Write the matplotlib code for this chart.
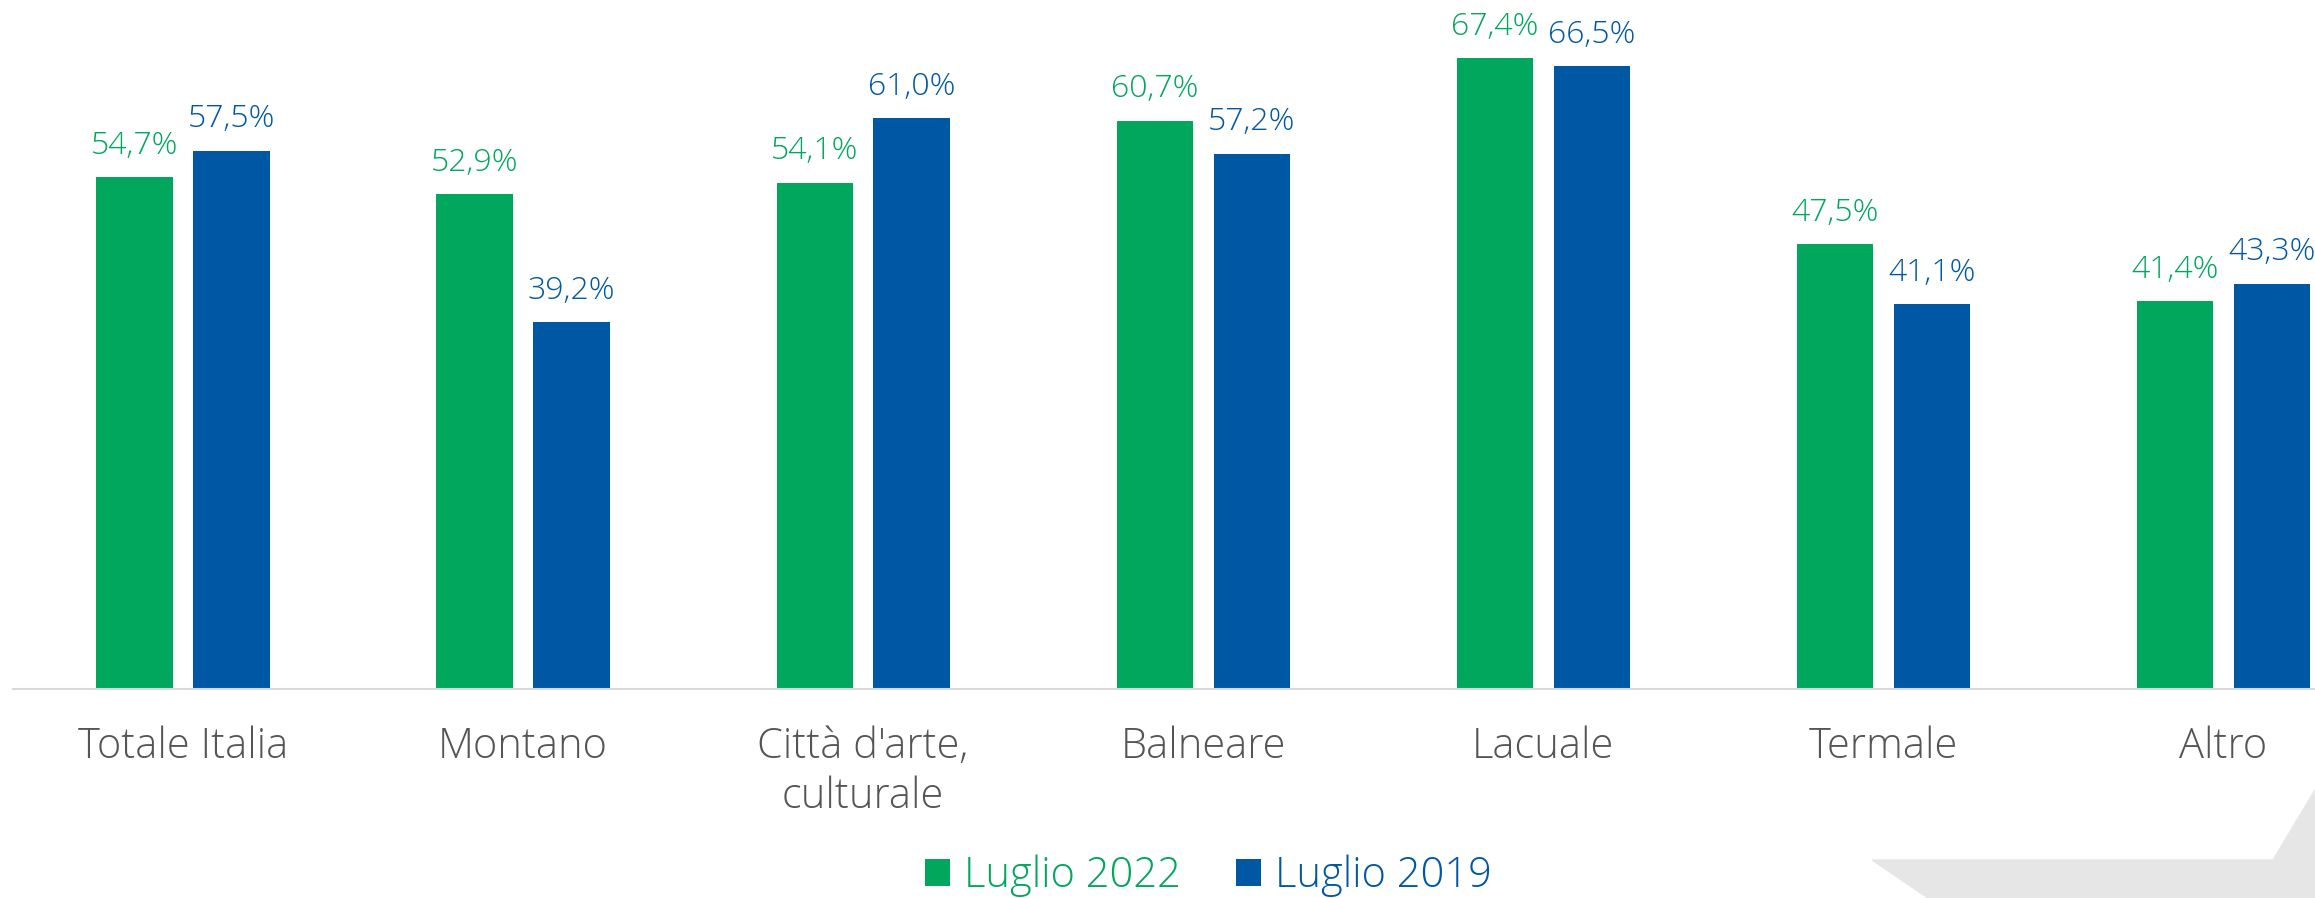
import matplotlib.pyplot as plt
from matplotlib.patches import Polygon
import numpy as np

categorie = ["Totale Italia", "Montano", "Città d'arte,\nculturale", "Balneare",
             "Lacuale", "Termale", "Altro"]
luglio_2022 = [54.7, 52.9, 54.1, 60.7, 67.4, 47.5, 41.4]
luglio_2019 = [57.5, 39.2, 61.0, 57.2, 66.5, 41.1, 43.3]
serie = ["Luglio 2022", "Luglio 2019"]

verde = "#00A75D"
blu = "#0057A4"

plt.rcParams['font.family'] = ['Open Sans', 'DejaVu Sans']

W, H = 2315, 898
fig = plt.figure(figsize=(W / 100, H / 100), dpi=100)
ax = fig.add_axes([13 / W, (H - 689) / H, 1 - 13 / W, 689 / H])

x = np.arange(len(categorie))
w = 0.224
off = 0.1426
b1 = ax.bar(x - off, luglio_2022, w, color=verde, label=serie[0])
b2 = ax.bar(x + off, luglio_2019, w, color=blu, label=serie[1])

for bars, vals, c in [(b1, luglio_2022, verde), (b2, luglio_2019, blu)]:
    for r, v in zip(bars, vals):
        ax.annotate(f"{v:.1f}%".replace(".", ","),
                    (r.get_x() + r.get_width() / 2, r.get_height()),
                    xytext=(0, 11), textcoords="offset points",
                    ha="center", va="bottom", color=c, fontsize=23,
                    fontweight="light")

ax.set_xlim(-0.5, 6.27)
ax.set_ylim(0, 73.6)
ax.set_yticks([])
for s in ["top", "left", "right"]:
    ax.spines[s].set_visible(False)
ax.spines["bottom"].set_color("#d9d9d9")
ax.spines["bottom"].set_linewidth(1.5)
ax.set_xticks(x)
ax.set_xticklabels(categorie, fontsize=30, color="#555555", linespacing=1.25,
                   fontweight="light")
ax.tick_params(axis="x", length=0, pad=26)

leg = fig.legend(loc="center", bbox_to_anchor=(0.522, 1 - 876 / H), ncol=2,
                 frameon=False, handlelength=0.6, handleheight=0.6,
                 handletextpad=0.35, columnspacing=1.3,
                 prop={"size": 30, "weight": "light"})
for t, c in zip(leg.get_texts(), [verde, blu]):
    t.set_color(c)

# forma grigia decorativa in basso a destra
pts = [(1872, 860), (2273, 860), (2315, 790), (2315, 898), (1928, 898)]
fig.patches.append(Polygon([(px / W, 1 - py / H) for px, py in pts], closed=True,
                           transform=fig.transFigure, color="#e6e6e6", zorder=-1))

fig.savefig("out.png", dpi=100)
